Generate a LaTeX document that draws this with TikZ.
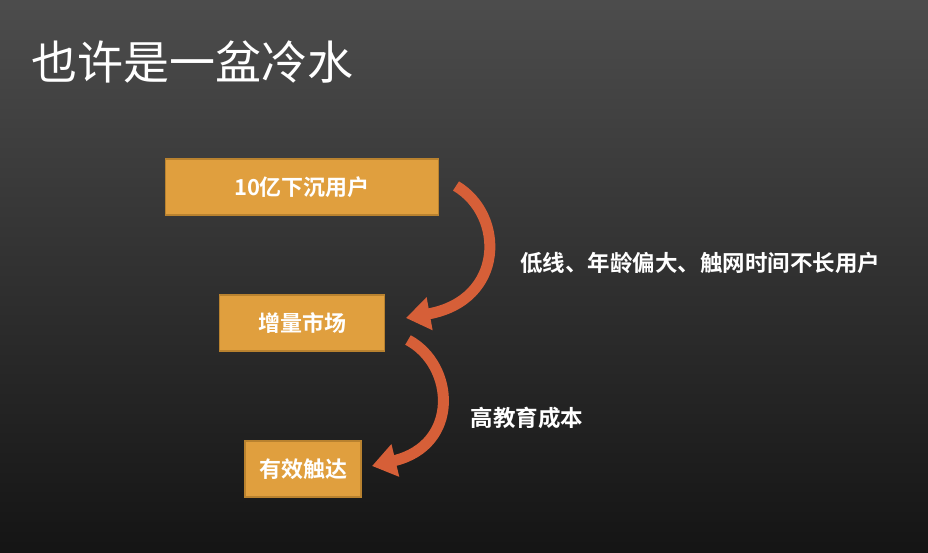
\documentclass[tikz,border=0pt]{standalone}
\usepackage{fontspec}
\setmainfont{Noto Sans CJK SC}
\newfontfamily\boldcjk{Noto Sans CJK SC Bold}
\usetikzlibrary{arrows.meta}
\definecolor{boxfill}{HTML}{E09F3E}
\definecolor{boxline}{HTML}{B9822F}
\definecolor{arrowred}{HTML}{D65F38}
\tikzset{
  stagebox/.style={draw=boxline,line width=1.5pt,fill=boxfill,text=white,
    font=\boldcjk\fontsize{22}{26}\selectfont,minimum height=56pt,inner sep=0pt},
  flowarrow/.style={draw=arrowred,line width=11pt,
    -{Triangle[width=32pt,length=24pt]}},
  note/.style={text=white,font=\boldcjk\fontsize{22.5}{26}\selectfont}
}
\begin{document}
\begin{tikzpicture}[x=1pt,y=-1pt]
    \shade[top color=black!70,bottom color=black!92] (0,0) rectangle (928,552);
    \useasboundingbox (0,0) rectangle (928,552);
    \node[text=white,font=\fontsize{46}{52}\selectfont,anchor=west] (Title) at (28,62) {也许是一盆冷水};

    \node[stagebox,minimum width=273pt] (Users)  at (302,187) {10亿下沉用户};
    \node[stagebox,minimum width=165pt] (Market) at (302,323) {增量市场};
    \node[stagebox,minimum width=116pt] (Reach)  at (303,469) {有效触达};

    \coordinate (UsersOut)  at (456,186);
    \coordinate (MarketIn)  at (406,318);
    \coordinate (MarketOut) at (408,340);
    \coordinate (ReachIn)   at (372,466);
    \draw[flowarrow] (UsersOut) .. controls (505,215) and (505,300) .. (MarketIn);
    \draw[flowarrow] (MarketOut) .. controls (455,365) and (460,445) .. (ReachIn);

    \node[note] (LowTier) at (700,263) {低线、年龄偏大、触网时间不长用户};
    \node[note] (Cost)    at (527,418) {高教育成本};
\end{tikzpicture}
\end{document}
